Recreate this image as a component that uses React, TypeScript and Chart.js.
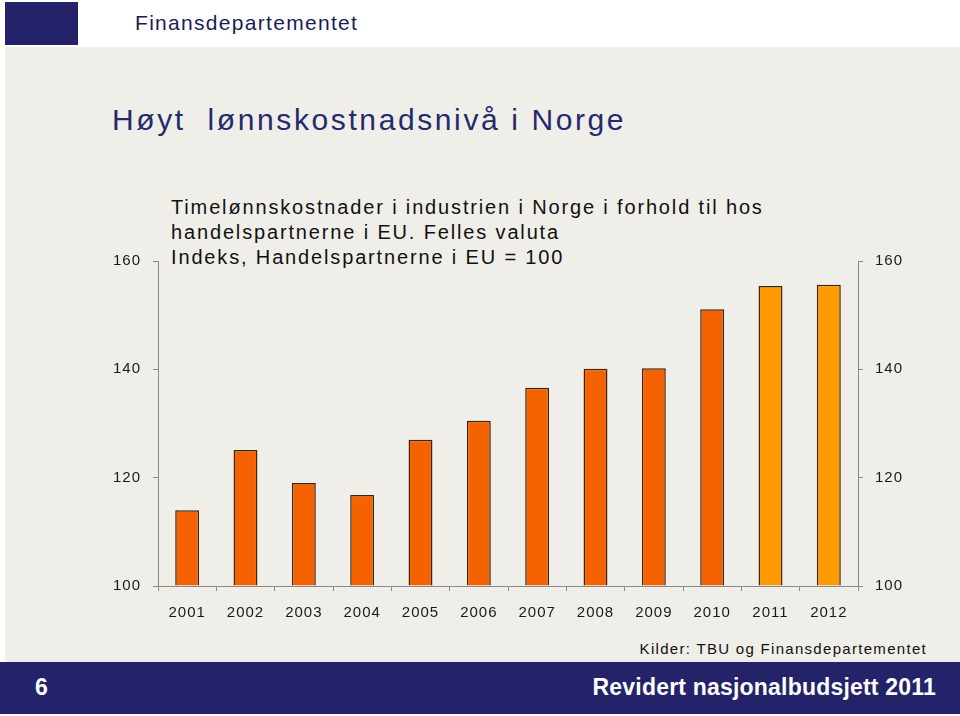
import React, { useEffect, useRef } from "react";
import { Chart, registerables } from "chart.js";

Chart.register(...registerables);

const years = ["2001", "2002", "2003", "2004", "2005", "2006", "2007", "2008", "2009", "2010", "2011", "2012"];
const indexValues = [114.0, 125.1, 119.0, 116.8, 127.0, 130.5, 136.6, 140.1, 140.2, 151.1, 155.4, 155.6];
const barColors = ["#F56300", "#F56300", "#F56300", "#F56300", "#F56300", "#F56300", "#F56300", "#F56300", "#F56300", "#F56300", "#FF9A00", "#FF9A00"];
const yTicks = [100, 120, 140, 160];

const subtitleLines = [
  "Timelønnskostnader i industrien i Norge i forhold til hos",
  "handelspartnerne i EU. Felles valuta",
  "Indeks, Handelspartnerne i EU = 100",
];

const NAVY = "#242369";
const BEIGE = "#efeee8";

export default function App() {
  const ref = useRef<HTMLCanvasElement>(null);

  useEffect(() => {
    if (!ref.current) return;
    const tickFont = { family: "'Liberation Sans', Arial, sans-serif", size: 15 };
    const spacing = {
      id: "spacing",
      beforeDraw(chart: any) {
        chart.ctx.letterSpacing = "1px";
      },
    };
    const chart = new Chart(ref.current, {
      type: "bar",
      data: {
        labels: years,
        datasets: [
          {
            data: indexValues,
            backgroundColor: barColors,
            borderColor: "#3b2410",
            borderWidth: 1.5,
            barPercentage: 0.41,
            categoryPercentage: 1,
            base: 100,
            yAxisID: "y",
          },
        ],
      },
      options: {
        animation: false,
        responsive: false,
        maintainAspectRatio: false,
        layout: { padding: { left: 100, right: 42, top: 261, bottom: 90 } },
        plugins: { legend: { display: false }, tooltip: { enabled: false } },
        scales: {
          x: {
            grid: { display: true, drawOnChartArea: false, drawTicks: true, tickLength: 5, color: "#8a8a8a", offset: true },
            border: { display: true, color: "#8a8a8a", width: 1 },
            ticks: { color: "#1a1a1a", font: tickFont, padding: 13, maxRotation: 0 },
            afterFit: (s: any) => {
              s.height = 40;
            },
          },
          y: {
            position: "left",
            min: 100,
            max: 160,
            afterBuildTicks: (s: any) => {
              s.ticks = yTicks.map((v) => ({ value: v }));
            },
            grid: { display: true, drawOnChartArea: false, drawTicks: true, tickLength: 5, color: "#8a8a8a" },
            border: { display: true, color: "#8a8a8a", width: 1 },
            ticks: { color: "#1a1a1a", font: tickFont, padding: 12 },
            afterFit: (s: any) => {
              s.width = 58;
            },
          },
          y2: {
            position: "right",
            min: 100,
            max: 160,
            afterBuildTicks: (s: any) => {
              s.ticks = yTicks.map((v) => ({ value: v }));
            },
            grid: { display: true, drawOnChartArea: false, drawTicks: true, tickLength: 5, color: "#8a8a8a" },
            border: { display: true, color: "#8a8a8a", width: 1 },
            ticks: { color: "#1a1a1a", font: tickFont, padding: 12 },
            afterFit: (s: any) => {
              s.width = 60;
            },
          },
        },
      },
      plugins: [spacing],
    });
    return () => chart.destroy();
  }, []);

  const textFont = "'Liberation Sans', Arial, sans-serif";

  return (
    <div style={{ position: "absolute", left: 0, top: 0, width: 960, height: 716, background: "#ffffff", overflow: "hidden", fontFamily: textFont }}>
      <div style={{ position: "absolute", left: 5, top: 2, width: 73, height: 43, background: NAVY }} />
      <div style={{ position: "absolute", left: 135, top: 11, fontSize: 21, color: "#1c1c55", letterSpacing: "1.3px", whiteSpace: "nowrap" }}>
        Finansdepartementet
      </div>
      <div style={{ position: "absolute", left: 5, top: 47, width: 955, height: 615, background: BEIGE }} />
      <div style={{ position: "absolute", left: 112, top: 103, fontSize: 30, color: "#232a6e", letterSpacing: "2.6px", whiteSpace: "pre" }}>
        {"Høyt  lønnskostnadsnivå i Norge"}
      </div>
      {subtitleLines.map((line, i) => (
        <div key={i} style={{ position: "absolute", left: 171, top: 196 + i * 25, fontSize: 20, color: "#111", letterSpacing: "1.85px", whiteSpace: "nowrap" }}>
          {line}
        </div>
      ))}
      <div style={{ position: "absolute", right: 33, top: 640, fontSize: 15, color: "#111", letterSpacing: "1.3px", whiteSpace: "nowrap" }}>
        Kilder: TBU og Finansdepartementet
      </div>
      <div style={{ position: "absolute", left: 0, top: 662, width: 960, height: 52, background: NAVY }} />
      <div style={{ position: "absolute", left: 35, top: 674, fontSize: 23, fontWeight: "bold", color: "#fff" }}>6</div>
      <div style={{ position: "absolute", right: 24, top: 674, fontSize: 23, fontWeight: "bold", color: "#fff", letterSpacing: "0.2px", whiteSpace: "nowrap" }}>
        Revidert nasjonalbudsjett 2011
      </div>
      <canvas ref={ref} width={960} height={716} style={{ position: "absolute", left: 0, top: 0, width: 960, height: 716 }} />
    </div>
  );
}
